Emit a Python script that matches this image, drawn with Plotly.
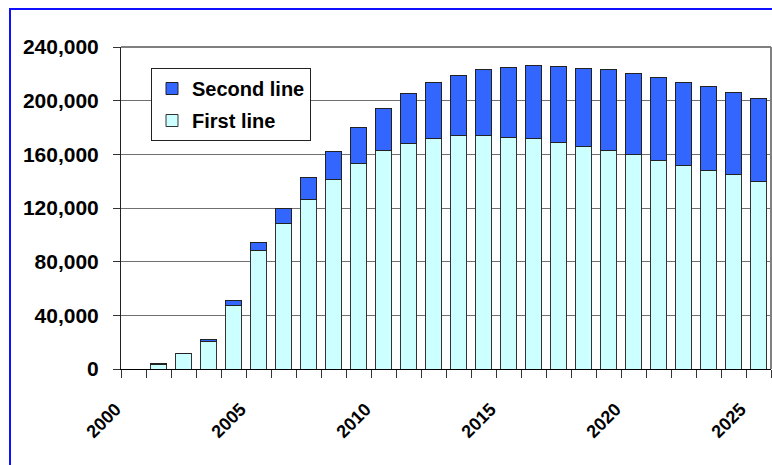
import plotly.graph_objects as go

years = list(range(2000, 2026))
first_line = [0, 3200, 11400, 20600, 47500, 88000, 108600, 126000, 140900, 153300,
              162500, 168200, 171900, 173900, 173900, 172700, 171900, 168900, 165700,
              162500, 159700, 155500, 151800, 148100, 144800, 140100]
total = [0, 4300, 11400, 22300, 50900, 94400, 119800, 142600, 162000, 180100,
         194300, 205400, 213700, 219100, 223600, 224800, 226300, 225600, 224100,
         222900, 219900, 217100, 213700, 210700, 206200, 201700]
second_line = [t - f for t, f in zip(total, first_line)]
y_ticks = [0, 40000, 80000, 120000, 160000, 200000, 240000]
x_ticks = [2000, 2005, 2010, 2015, 2020, 2025]

FONT = "Liberation Sans, Arial, sans-serif"
NBSP = "\u00a0"

W, H = 772, 465
ML, MR, MT, MB = 121, 1, 47, 96
PW, PH = W - ML - MR, H - MT - MB

fig = go.Figure()
fig.add_trace(go.Bar(x=years, y=first_line, name="First line", legendgroup="a", legendrank=2,
                     marker=dict(color="#CCFFFF", line=dict(color="#333333", width=1))))
fig.add_trace(go.Bar(x=years, y=second_line, name="Second line", legendgroup="b", legendrank=1,
                     marker=dict(color="#3366FF", line=dict(color="#222222", width=1))))

fig.update_layout(
    barmode="stack",
    bargap=0.38,
    width=W, height=H,
    margin=dict(l=ML, r=MR, t=MT, b=MB, autoexpand=False),
    paper_bgcolor="white", plot_bgcolor="white",
    font=dict(family=FONT, color="black"),
    legend=dict(x=(151 - 121) / PW, y=(369 - 68) / PH, xanchor="left", yanchor="top",
                bgcolor="white", bordercolor="#222222", borderwidth=1,
                traceorder="grouped", tracegroupgap=3, itemwidth=30,
                font=dict(family=FONT, size=20, color="black", weight="bold")),
    xaxis=dict(range=[1999.5, 2025.5], tickvals=x_ticks,
               ticktext=[str(v) + NBSP * 5 for v in x_ticks],
               tickangle=-45, ticks="outside", ticklen=0, automargin=False,
               ticklabelstandoff=4,
               tickfont=dict(family=FONT, size=18, color="black", weight="bold"),
               showline=True, linecolor="black", linewidth=1, showgrid=False, zeroline=False,
               minor=dict(ticks="outside", ticklen=8, tick0=1999.5, dtick=1,
                          tickcolor="#333333", tickwidth=1, showgrid=False)),
    yaxis=dict(range=[0, 240000], tickvals=y_ticks, automargin=False,
               ticktext=[f"{v:,}" for v in y_ticks],
               ticks="outside", ticklen=7, tickcolor="#333333", ticklabelstandoff=10,
               tickfont=dict(family=FONT, size=21, color="black", weight="bold"),
               showline=True, linecolor="#222222", linewidth=1,
               showgrid=True, gridcolor="#707070", gridwidth=1, zeroline=False),
    shapes=[
        dict(type="line", xref="paper", yref="paper", x0=0, x1=1, y0=1, y1=1,
             line=dict(color="#808080", width=2)),
        dict(type="line", xref="paper", yref="paper", x0=1, x1=1, y0=0, y1=1,
             line=dict(color="#808080", width=2)),
        dict(type="rect", xref="paper", yref="paper",
             x0=(10 - 121) / PW, x1=1.2, y0=-0.5, y1=(369 - 9) / PH,
             line=dict(color="#1010FF", width=2), layer="above"),
    ],
)

fig.write_html(
    "out.html",
    config={"displayModeBar": False},
    post_script=(
        "document.documentElement.style.margin='0';"
        "document.body.style.margin='0';"
        "document.body.style.overflow='hidden';"
        "document.documentElement.style.overflow='hidden';"
    ),
)
